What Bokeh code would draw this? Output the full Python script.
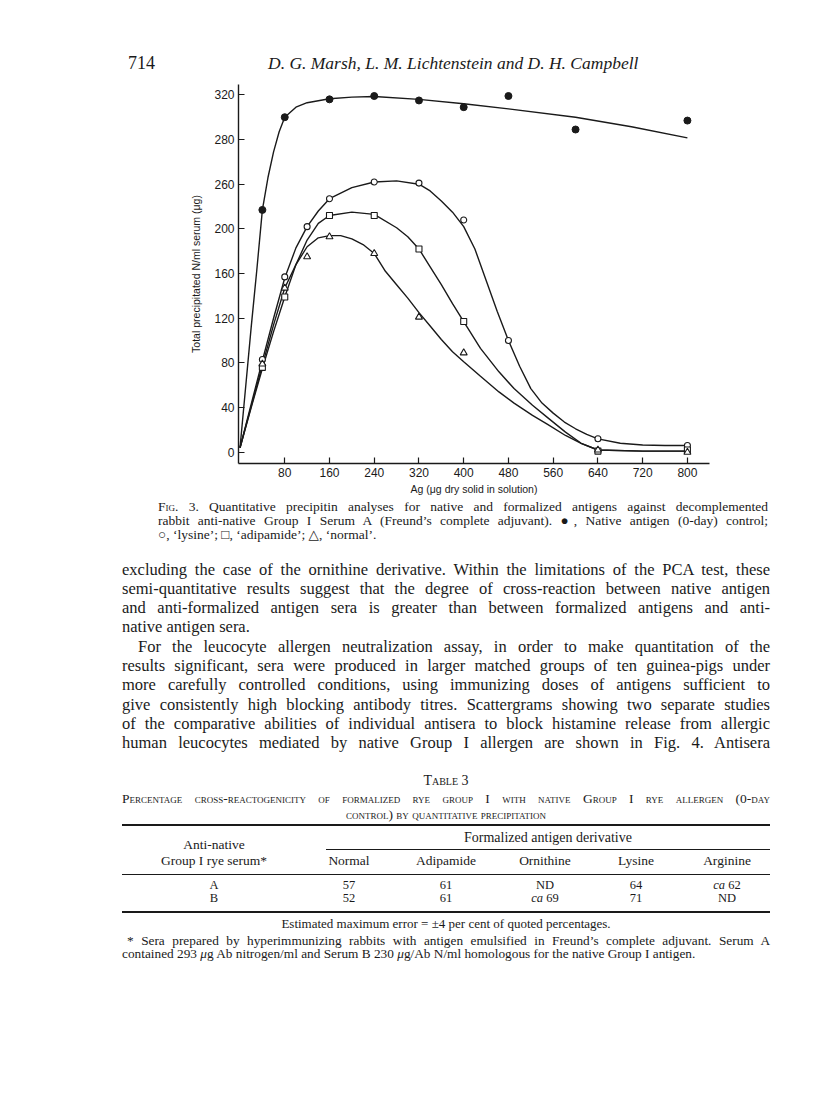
from bokeh.plotting import figure
from bokeh.models import Div, FixedTicker, Range1d
from bokeh.layouts import column
from bokeh.embed import file_html
from bokeh.resources import INLINE

# ---------------- chart data ----------------
native_x = [40, 80, 160, 240, 320, 400, 480, 600, 800]
native_y = [217, 300, 316, 319, 315, 309, 319, 289, 297]
lysine_x = [40, 80, 120, 160, 240, 320, 400, 480, 640, 800]
lysine_y = [83, 157, 202, 227, 242, 241, 208, 100, 12, 6]
adip_x = [40, 80, 160, 240, 320, 400, 640, 800]
adip_y = [76, 139, 212, 212, 182, 117, 1, 2]
normal_x = [40, 80, 120, 160, 240, 320, 400, 640, 800]
normal_y = [79, 147, 175, 193, 178, 121, 89, 2, 0]

# hand-drawn fitted curves
native_fit_x = [0, 10, 20, 30, 40, 50, 60, 70, 80, 100, 120, 160, 200, 240, 320, 400, 480, 600, 700, 800]
native_fit_y = [4, 58, 112, 163, 217, 246, 269, 287, 300, 309, 313, 316.5, 318, 318.5, 316, 312, 307.5, 300, 291.5, 281.5]
lysine_fit_x = [0, 20, 40, 60, 80, 100, 120, 140, 160, 200, 240, 280, 320, 340, 360, 380, 400, 420, 440, 460, 480, 500,
                520, 540, 560, 580, 600, 620, 640, 680, 720, 760, 800]
lysine_fit_y = [4, 43, 82, 120, 156, 183, 202, 216, 227, 237, 242, 243, 240, 234, 225, 215, 202, 182, 154, 126, 100, 77,
                57, 44, 35, 27, 21, 16, 12, 8, 6.5, 6, 6]
adip_fit_x = [0, 20, 40, 60, 80, 100, 120, 140, 160, 200, 240, 280, 300, 320, 340, 360, 380, 400, 430, 463, 490, 523,
              550, 582, 610, 640, 720, 800]
adip_fit_y = [4, 40, 75, 108, 139, 168, 190, 205, 212, 215, 213, 201, 193, 182, 166, 150, 133, 117, 93, 72, 57, 42,
              31, 18, 8, 2, 1, 1]
normal_fit_x = [0, 20, 40, 60, 80, 100, 120, 140, 160, 180, 200, 220, 240, 260, 280, 300, 320, 340, 360, 380, 400, 430,
                463, 490, 523, 550, 582, 610, 640, 720, 800]
normal_fit_y = [4, 41, 78, 114, 147, 168, 184, 192, 194, 194, 191, 186, 178, 162, 150, 138, 125, 113, 101, 90, 81, 68,
                54, 44, 33, 25, 15, 8, 2, 1, 1]

x_ticks = [80, 160, 240, 320, 400, 480, 560, 640, 720, 800]
y_ticks = [0, 40, 80, 120, 160, 200, 240, 280, 320]
y_tick_labels = ["0", "40", "80", "120", "160", "200", "260", "280", "320"]

x_title = "Ag (\u03bcg dry solid in solution)"
y_title = "Total precipitated N/ml serum (\u03bcg)"

# ---------------- page text ----------------
page_number = "714"
running_head = "D. G. Marsh, L. M. Lichtenstein and D. H. Campbell"

caption_lines = [
    '<span style="font-variant:small-caps">Fig</span>. 3. Quantitative precipitin analyses for native and formalized antigens against decomplemented',
    "rabbit anti-native Group I Serum A (Freund\u2019s complete adjuvant). \u25cf, Native antigen (0-day) control;",
    "\u25cb, \u2018lysine\u2019; \u25a1, \u2018adipamide\u2019; \u25b3, \u2018normal\u2019.",
]
body_lines = [
    "excluding the case of the ornithine derivative. Within the limitations of the PCA test, these",
    "semi-quantitative results suggest that the degree of cross-reaction between native antigen",
    "and anti-formalized antigen sera is greater than between formalized antigens and anti-",
    "native antigen sera.",
    "For the leucocyte allergen neutralization assay, in order to make quantitation of the",
    "results significant, sera were produced in larger matched groups of ten guinea-pigs under",
    "more carefully controlled conditions, using immunizing doses of antigens sufficient to",
    "give consistently high blocking antibody titres. Scattergrams showing two separate studies",
    "of the comparative abilities of individual antisera to block histamine release from allergic",
    "human leucocytes mediated by native Group I allergen are shown in Fig. 4. Antisera",
]
table_label = "Table 3"
table_title = [
    "Percentage cross-reactogenicity of formalized rye group I with native Group I rye allergen (0-day",
    "control) by quantitative precipitation",
]
table_row_header = ["Anti-native", "Group I rye serum*"]
table_group_header = "Formalized antigen derivative"
table_cols = ["Normal", "Adipamide", "Ornithine", "Lysine", "Arginine"]
table_rows = ["A", "B"]
row_A = ["57", "61", "ND", "64", "<i>ca</i> 62"]
row_B = ["52", "61", "<i>ca</i> 69", "71", "ND"]
table_note = "Estimated maximum error = \u00b14 per cent of quoted percentages."
footnote_lines = [
    "* Sera prepared by hyperimmunizing rabbits with antigen emulsified in Freund\u2019s complete adjuvant. Serum A",
    "contained 293 <i>\u03bc</i>g Ab nitrogen/ml and Serum B 230 <i>\u03bc</i>g/Ab N/ml homologous for the native Group I antigen.",
]

SERIF = "Liberation Serif, DejaVu Serif, serif"
INK = "#1a1a1a"

# ---------------- header ----------------
HEAD_H = 82


def abs_text(text, left, cy, size, lh, page_top, extra=""):
    return (f'<div style="position:absolute;left:{left - 8}px;top:{cy - lh / 2 - page_top:.1f}px;'
            f'font-size:{size}px;line-height:{lh}px;white-space:nowrap;{extra}">{text}</div>')


head_html = (
    f'<div style="position:relative;width:800px;height:{HEAD_H}px;font-family:{SERIF};color:{INK};">'
    + abs_text(page_number, 136, 71, 18, 20, 8)
    + abs_text(running_head, 276, 71, 17.5, 20, 8, "font-style:italic;")
    + "</div>"
)
header = Div(text=head_html, width=800, height=HEAD_H, margin=0)

# ---------------- chart ----------------
FIG_H = 421
p = figure(width=800, height=FIG_H, output_backend="svg", toolbar_location=None,
           x_range=Range1d(-2.7, 839.5), y_range=Range1d(-10.1, 329.3),
           min_border_left=238, min_border_right=91, min_border_top=2, min_border_bottom=40,
           background_fill_color="white", border_fill_color="white", margin=0)
p.outline_line_color = None
p.grid.visible = False

for xs, ys in [(native_fit_x, native_fit_y), (lysine_fit_x, lysine_fit_y),
               (adip_fit_x, adip_fit_y), (normal_fit_x, normal_fit_y)]:
    p.line(xs, ys, line_color=INK, line_width=1.4)

p.scatter(native_x, native_y, marker="circle", size=7, fill_color=INK, line_color=INK)
p.scatter(lysine_x, lysine_y, marker="circle", size=6, fill_color="white", line_color=INK, line_width=1.1)
p.scatter(adip_x, adip_y, marker="square", size=6, fill_color="white", line_color=INK, line_width=1.1)
p.scatter(normal_x, normal_y, marker="triangle", size=7, fill_color="white", line_color=INK, line_width=1.1)

p.xaxis.ticker = FixedTicker(ticks=x_ticks)
p.yaxis.ticker = FixedTicker(ticks=y_ticks)
p.yaxis.major_label_overrides = {t: l for t, l in zip(y_ticks, y_tick_labels)}
p.xaxis.axis_label = x_title
p.yaxis.axis_label = y_title
for ax in (p.xaxis, p.yaxis):
    ax.axis_line_color = INK
    ax.axis_line_width = 1.4
    ax.major_tick_line_color = INK
    ax.major_tick_line_width = 1.2
    ax.major_tick_in = 6
    ax.major_tick_out = 0
    ax.minor_tick_line_color = None
    ax.major_label_text_font = "Liberation Sans"
    ax.major_label_text_font_size = "12px"
    ax.major_label_text_color = INK
    ax.major_label_standoff = 4
    ax.axis_label_text_font = "Liberation Sans"
    ax.axis_label_text_font_size = "10.5px"
    ax.axis_label_text_font_style = "normal"
    ax.axis_label_text_color = INK
p.xaxis.axis_label_standoff = 3
p.yaxis.axis_label_standoff = 9

# ---------------- text below the chart ----------------
TOP = 8 + HEAD_H + FIG_H  # page y of this div's top
REST_H = 1097 - (HEAD_H + FIG_H)


def ln(text, cy, left, right, size, lh, justify=True, extra=""):
    top = cy - lh / 2 - TOP
    align = "text-align:justify;text-align-last:justify;" if justify else "text-align:left;"
    return (f'<div style="position:absolute;left:{left - 8}px;width:{right - left}px;top:{top:.1f}px;'
            f'font-size:{size}px;line-height:{lh}px;{align}{extra}">{text}</div>')


def centered(text, cx, cy, size, lh, extra=""):
    top = cy - lh / 2 - TOP
    return (f'<div style="position:absolute;left:{cx - 8 - 200}px;width:400px;top:{top:.1f}px;'
            f'font-size:{size}px;line-height:{lh}px;text-align:center;white-space:nowrap;{extra}">{text}</div>')


def hrule(y, x0, x1, w):
    return (f'<div style="position:absolute;left:{x0 - 8}px;width:{x1 - x0}px;top:{y - w / 2 - TOP:.1f}px;'
            f'height:{w}px;background:{INK};"></div>')


parts = []
L, R = 130, 778
# caption
cap_y = [515, 529, 543]
for i, t in enumerate(caption_lines):
    parts.append(ln(t, cap_y[i], 166, 776, 13.5, 14, justify=(i < 2)))
# body
body_y = [577 + 19.3 * i for i in range(10)]
for i, t in enumerate(body_lines):
    left = L + 16 if i == 4 else L
    parts.append(ln(t, body_y[i], left, R, 16.5, 19, justify=(i != 3)))
# table
MID = (L + R) / 2
parts.append(centered(table_label, MID, 788.5, 14, 14, "font-variant:small-caps;"))
parts.append(ln(table_title[0], 806, L, R, 13.5, 13, extra="font-variant:small-caps;"))
parts.append(centered(table_title[1], MID, 822, 13.5, 13, "font-variant:small-caps;"))
parts.append(hrule(832.5, L, R, 2))
parts.append(centered(table_group_header, 556, 845.7, 14, 14))
parts.append(hrule(857.7, 334, R, 1.3))
parts.append(centered(table_row_header[0], 222, 853, 13.5, 14))
parts.append(centered(table_row_header[1], 222, 869, 13.5, 14))
col_x = [357, 454, 553, 644, 735]
for cx, t in zip(col_x, table_cols):
    parts.append(centered(t, cx, 869, 13.5, 14))
parts.append(hrule(882.7, L, R, 1.3))
for cy, name, vals in [(893, table_rows[0], row_A), (905.5, table_rows[1], row_B)]:
    parts.append(centered(name, 222, cy, 12.5, 12))
    for cx, t in zip(col_x, vals):
        parts.append(centered(t, cx, cy, 12.5, 12))
parts.append(hrule(920, L, R, 2))
parts.append(centered(table_note, MID, 931.7, 13, 13))
parts.append(ln(footnote_lines[0], 948, L + 5, R, 13.3, 13))
parts.append(ln(footnote_lines[1], 961, L, R, 13.3, 13, justify=False))

rest_html = (f'<div style="position:relative;width:800px;height:{REST_H}px;font-family:{SERIF};color:{INK};">'
             + "".join(parts) + "</div>")
rest = Div(text=rest_html, width=800, height=REST_H, margin=0)

layout = column(header, p, rest, spacing=0, margin=0)
open("out.html", "w").write(file_html(layout, INLINE))
